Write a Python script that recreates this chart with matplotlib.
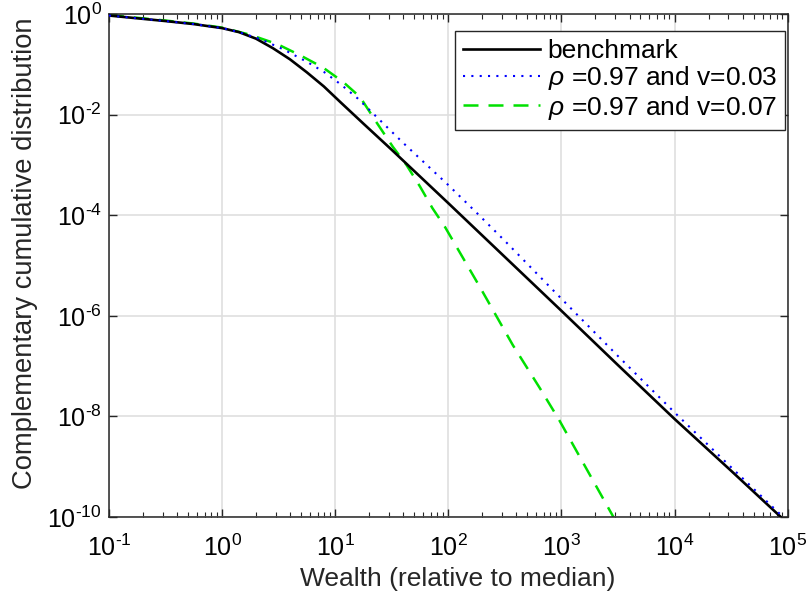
import numpy as np
import matplotlib
matplotlib.use("Agg")
import matplotlib.pyplot as plt
from matplotlib.ticker import LogLocator, NullLocator, FuncFormatter

plt.rcParams["font.family"] = ["Liberation Sans", "DejaVu Sans"]
plt.rcParams["mathtext.fontset"] = "custom"
plt.rcParams["mathtext.rm"] = "Liberation Sans"
plt.rcParams["mathtext.it"] = "Liberation Sans:italic"
plt.rcParams["axes.unicode_minus"] = False

# values, as log10(wealth) / log10(ccdf)
bench_lx = [-1.0, -0.5, -0.25, 0.0, 0.15, 0.3, 0.45, 0.6, 0.75, 0.9, 1.05, 1.25, 1.5,
            1.75, 2.0, 2.5, 3.0, 3.5, 4.0, 4.5, 4.94]
bench_ly = [-0.03, -0.14, -0.20, -0.28, -0.36, -0.49, -0.68, -0.90, -1.16, -1.44, -1.76, -2.18, -2.70,
            -3.23, -3.76, -4.83, -5.90, -6.98, -8.05, -9.08, -10.0]

v03_lx = [-1.0, -0.5, -0.25, 0.0, 0.15, 0.34, 0.54, 0.75, 0.9, 1.05, 1.2, 1.4, 1.6, 1.8,
          2.0, 2.25, 2.5, 3.0, 3.5, 4.0, 4.5, 4.96]
v03_ly = [-0.03, -0.14, -0.20, -0.28, -0.36, -0.50, -0.70, -0.95, -1.15, -1.40, -1.68, -2.12, -2.56, -2.98,
          -3.40, -3.95, -4.51, -5.66, -6.80, -7.92, -9.01, -10.0]

v07_lx = [-1.0, -0.5, -0.25, 0.0, 0.245, 0.49, 0.69, 0.89, 1.07, 1.22, 1.37, 1.51,
          1.63, 1.75, 1.86, 1.97, 2.28, 2.57, 2.81, 2.98, 3.46]
v07_ly = [-0.02, -0.13, -0.19, -0.27, -0.41, -0.60, -0.82, -1.06, -1.35, -1.65, -2.17, -2.64,
          -3.00, -3.43, -3.86, -4.23, -5.43, -6.58, -7.44, -8.07, -10.0]

labels = ["benchmark", r"$\rho$ =0.97 and v=0.03", r"$\rho$ =0.97 and v=0.07"]


def pow10(v, pos):
    e = int(round(np.log10(v)))
    s = r"\text{-}%d" % -e if e < 0 else "%d" % e
    return r"$\mathdefault{10^{%s}}$" % s


fig = plt.figure(figsize=(8.07, 5.94), dpi=100)
ax = fig.add_axes([0.135, 0.1296, 0.841, 0.8468])

ax.plot(10.0 ** np.array(bench_lx), 10.0 ** np.array(bench_ly),
        color="black", lw=1.9, label=labels[0], zorder=3)
ax.plot(10.0 ** np.array(v03_lx), 10.0 ** np.array(v03_ly),
        color="blue", lw=1.5, dashes=(1, 3), label=labels[1], zorder=4)
ax.plot(10.0 ** np.array(v07_lx), 10.0 ** np.array(v07_ly),
        color="#00e000", lw=1.8, dashes=(6, 4), label=labels[2], zorder=2)

ax.set_xscale("log")
ax.set_yscale("log")
ax.set_xlim(1e-1, 1e5)
ax.set_ylim(1e-10, 1e0)
ax.xaxis.set_major_locator(LogLocator(base=10, numticks=20))
ax.xaxis.set_minor_locator(LogLocator(base=10, subs=np.arange(2, 10), numticks=20))
ax.yaxis.set_major_locator(LogLocator(base=100, numticks=20))
ax.yaxis.set_minor_locator(NullLocator())
ax.xaxis.set_major_formatter(FuncFormatter(pow10))
ax.yaxis.set_major_formatter(FuncFormatter(pow10))

ax.grid(True, which="major", color="#dfdfdf", lw=1.2)
ax.set_axisbelow(True)
ax.tick_params(which="both", direction="in", top=True, right=True,
               color="#262626", labelsize=18)
ax.tick_params(axis="x", which="major", pad=13)
ax.tick_params(axis="y", which="major", pad=5)
ax.tick_params(which="major", length=6, width=1)
ax.tick_params(which="minor", length=3.5, width=0.8)
for sp in ax.spines.values():
    sp.set_color("#262626")
    sp.set_linewidth(1.1)

ax.set_xlabel("Wealth (relative to median)", fontsize=19, color="#262626")
ax.set_ylabel("Complementary cumulative distribution", fontsize=19.7, color="#262626")
ax.xaxis.set_label_coords(0.514, -0.10)
ax.yaxis.set_label_coords(-0.105, 0.525)

leg = ax.legend(loc="upper right", bbox_to_anchor=(0.996, 0.966), borderaxespad=0,
                fontsize=19, frameon=True, fancybox=False, framealpha=1,
                edgecolor="#262626", handlelength=2.9, handletextpad=0.3,
                labelspacing=0.05, borderpad=0.3)
leg.get_frame().set_linewidth(1.0)

fig.savefig("out.png", dpi=100)
